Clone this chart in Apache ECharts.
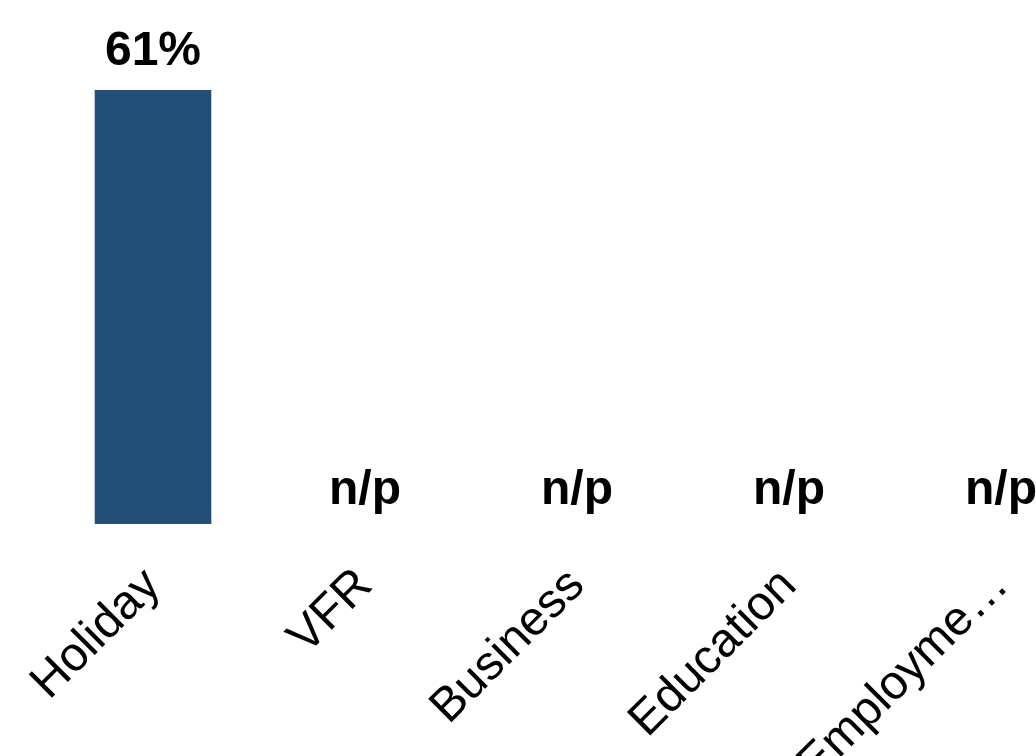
<!DOCTYPE html>
<html><head><meta charset="utf-8">
<script src="https://cdn.jsdelivr.net/npm/echarts@6/dist/echarts.min.js"></script>
<style>html,body{margin:0;padding:0;background:#fff}#c{width:1036px;height:756px}</style>
</head><body><div id="c"></div>
<script>
const categories = ["Holiday", "VFR", "Business", "Education", "Employme…"];
const values = [61, null, null, null, null];
const valueLabels = ["61%", "n/p", "n/p", "n/p", "n/p"];

const chart = echarts.init(document.getElementById('c'), null, {renderer: 'canvas'});
chart.setOption({
  animation: false,
  grid: {left: 47, top: 26, bottom: 232, width: 1060, outerBoundsMode: 'none', containLabel: false},
  xAxis: {
    type: 'category', data: categories,
    axisLine: {show: false}, axisTick: {show: false},
    axisLabel: {
      interval: 0, rotate: 45, margin: 54, color: '#000',
      fontFamily: 'Liberation Sans', fontSize: 48, hideOverlap: false
    }
  },
  yAxis: {type: 'value', min: 0, max: 70, show: false, splitLine: {show: false}},
  series: [{
    type: 'bar', barWidth: '55%',
    itemStyle: {color: '#214f78'},
    data: values.map((v, i) => ({
      value: v == null ? 0 : v,
      label: {formatter: valueLabels[i], distance: v == null ? 9 : 14}
    })),
    label: {
      show: true, position: 'top', color: '#000',
      fontFamily: 'Liberation Sans', fontWeight: 'bold', fontSize: 48
    }
  }]
});
</script></body></html>
